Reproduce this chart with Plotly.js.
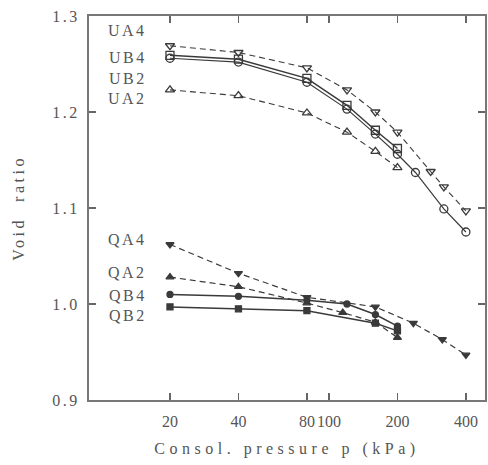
<!DOCTYPE html>
<html>
<head>
<meta charset="utf-8">
<script src="https://cdn.plot.ly/plotly-3.0.1.min.js"></script>
<style>html,body{margin:0;padding:0;background:#fff;}</style>
</head>
<body>
<div id="chart" style="width:488px;height:465px;"></div>
<script>
// Consolidation pressure (kPa) and void ratio per test
const pUA4 = [20, 40, 80, 120, 160, 200, 280, 320, 400];
const eUA4 = [1.269, 1.262, 1.246, 1.223, 1.200, 1.179, 1.138, 1.122, 1.097];

const pUB4 = [20, 40, 80, 120, 160, 200];
const eUB4 = [1.259, 1.255, 1.235, 1.207, 1.181, 1.162];

const pUB2 = [20, 40, 80, 120, 160, 200, 240, 320, 400];
const eUB2 = [1.256, 1.252, 1.231, 1.203, 1.177, 1.156, 1.137, 1.099, 1.075];

const pUA2 = [20, 40, 80, 120, 160, 200];
const eUA2 = [1.223, 1.217, 1.199, 1.179, 1.159, 1.142];

const pQA4 = [20, 40, 80, 160, 235, 315, 400];
const eQA4 = [1.062, 1.032, 1.007, 0.997, 0.980, 0.963, 0.947];

const pQA2 = [20, 40, 80, 115, 160, 200];
const eQA2 = [1.028, 1.018, 1.001, 0.991, 0.981, 0.965];

const pQB4 = [20, 40, 80, 120, 160, 200];
const eQB4 = [1.010, 1.008, 1.004, 1.000, 0.989, 0.977];

const pQB2 = [20, 40, 80, 160, 200];
const eQB2 = [0.997, 0.995, 0.993, 0.980, 0.972];

const xTicks = [20, 40, 80, 100, 200, 400];
const yTicks = [0.9, 1.0, 1.1, 1.2, 1.3];
const yTickText = ['0.9', '1.0', '1.1', '1.2', '1.3'];

const seriesLabels = ['UA4', 'UB4', 'UB2', 'UA2', 'QA4', 'QA2', 'QB4', 'QB2'];
const labelY = [1.285, 1.257, 1.235, 1.214, 1.067, 1.033, 1.009, 0.988];

const ink = '#3a3a3a';
const serif = 'Liberation Serif, serif';
const sp = (t, s) => '<span style="letter-spacing:' + s + 'px">' + t + '</span>';

function tr(x, y, name, dash, sym, size, width) {
  return {
    x: x, y: y, name: name, type: 'scatter', mode: 'lines+markers',
    line: {color: ink, width: width, dash: dash},
    marker: {symbol: sym, size: size, color: ink, line: {color: ink, width: 1.3}}
  };
}

const data = [
  tr(pUA4, eUA4, 'UA4', '6px,4px', 'triangle-down-open', 8, 1.1),
  tr(pUB4, eUB4, 'UB4', 'solid', 'square-open', 8, 1.5),
  tr(pUB2, eUB2, 'UB2', 'solid', 'circle-open', 8, 1.2),
  tr(pUA2, eUA2, 'UA2', '6px,4px', 'triangle-up-open', 8, 1.1),
  tr(pQA4, eQA4, 'QA4', '6px,4px', 'triangle-down', 7, 1.2),
  tr(pQA2, eQA2, 'QA2', '6px,4px', 'triangle-up', 7, 1.2),
  tr(pQB4, eQB4, 'QB4', 'solid', 'circle', 6, 1.5),
  tr(pQB2, eQB2, 'QB2', 'solid', 'square', 6, 1.5)
];

const annotations = seriesLabels.map((t, i) => ({
  text: sp(t, 2.5), xref: 'paper', yref: 'y', x: 0.098, y: labelY[i],
  xanchor: 'center', yanchor: 'middle', showarrow: false,
  font: {family: serif, size: 16, color: '#555'}
}));

const layout = {
  width: 488, height: 465,
  margin: {l: 89, r: 3, t: 16, b: 65},
  paper_bgcolor: '#fff', plot_bgcolor: '#fff',
  showlegend: false,
  font: {family: serif, color: '#555'},
  xaxis: {
    type: 'log', range: [0.945, 2.686],
    tickvals: xTicks, ticktext: xTicks.map(String),
    tickangle: 0,
    ticks: 'inside', ticklen: 7, tickcolor: '#666', tickwidth: 1.2,
    ticklabelstandoff: 6,
    showline: true, linecolor: '#777', linewidth: 2, mirror: 'ticks',
    showgrid: false, zeroline: false,
    tickfont: {family: serif, size: 16, color: '#555'},
    title: {text: sp('Consol. pressure p (kPa)', 4.5),
            font: {family: serif, size: 16, color: '#555'}, standoff: 14}
  },
  yaxis: {
    range: [0.9, 1.3],
    tickvals: yTicks, ticktext: yTickText.map(t => sp(t, 2.5)),
    ticks: 'inside', ticklen: 7, tickcolor: '#666', tickwidth: 1.2,
    ticklabelstandoff: 4,
    showline: true, linecolor: '#777', linewidth: 2, mirror: 'ticks',
    showgrid: false, zeroline: false,
    tickfont: {family: serif, size: 16, color: '#555'},
    title: {text: sp('Void  ratio', 3.5),
            font: {family: serif, size: 16, color: '#555'}, standoff: 24}
  },
  annotations: annotations
};

Plotly.newPlot('chart', data, layout, {displayModeBar: false, staticPlot: true});
</script>
</body>
</html>
